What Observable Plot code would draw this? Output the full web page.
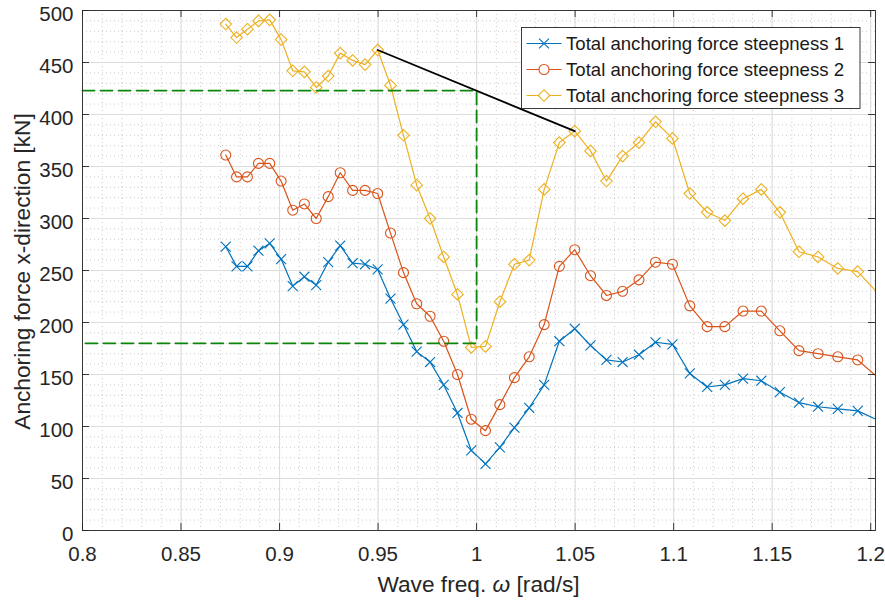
<!DOCTYPE html>
<html>
<head>
<meta charset="utf-8">
<script src="https://cdn.jsdelivr.net/npm/d3@7"></script>
<script src="https://cdn.jsdelivr.net/npm/@observablehq/plot@0.6"></script>
<style>
  html, body { margin: 0; padding: 0; background: #ffffff; }
  #chart { width: 885px; height: 601px; }
</style>
</head>
<body>
<div id="chart"></div>
<script>
// Wave frequencies [rad/s] of the simulated sea states
const omega = [
  0.8727, 0.8782, 0.8837, 0.8893, 0.8950, 0.9008, 0.9067, 0.9126, 0.9186, 0.9247,
  0.9308, 0.9371, 0.9434, 0.9498, 0.9563, 0.9629, 0.9696, 0.9764, 0.9833, 0.9903,
  0.9973, 1.0045, 1.0118, 1.0192, 1.0267, 1.0343, 1.0420, 1.0498, 1.0578, 1.0659,
  1.0741, 1.0824, 1.0908, 1.0994, 1.1082, 1.1170, 1.1260, 1.1352, 1.1445, 1.1539,
  1.1636, 1.1733, 1.1833, 1.1934, 1.2037
];

// Total anchoring force in x-direction [kN] for each wave steepness
const steep1 = [
  273, 254, 254, 269, 276, 261, 235, 244, 236, 258,
  274, 257, 256, 251, 223, 198, 172, 162, 140, 113,
   77,  64,  80,  99, 118, 140, 182, 194, 178, 164,
  162, 169, 181, 179, 151, 138, 140, 146, 144, 133,
  123, 119, 117, 115, 106
];
const steep2 = [
  361, 340, 340, 353, 353, 336, 308, 314, 300, 321,
  344, 327, 327, 324, 286, 248, 218, 206, 182, 150,
  107,  96, 121, 147, 167, 198, 254, 270, 245, 226,
  230, 241, 258, 256, 216, 196, 196, 211, 211, 192,
  173, 170, 167, 164, 147
];
const steep3 = [
  487, 474, 482, 490, 491, 472, 442, 441, 426, 437,
  459, 452, 448, 462, 428, 380, 332, 300, 263, 227,
  176, 177, 220, 256, 260, 328, 373, 384, 365, 336,
  360, 373, 393, 377, 324, 306, 298, 319, 328, 306,
  268, 263, 252, 249, 228
];

const seriesNames = [
  "Total anchoring force steepness 1",
  "Total anchoring force steepness 2",
  "Total anchoring force steepness 3"
];

// Axis ticks and their labels
const xTicks = [0.8, 0.85, 0.9, 0.95, 1.0, 1.05, 1.1, 1.15, 1.2];
const xTickLabels = ["0.8", "0.85", "0.9", "0.95", "1", "1.05", "1.1", "1.15", "1.2"];
const yTicks = [0, 50, 100, 150, 200, 250, 300, 350, 400, 450, 500];
const xMinor = d3.range(80, 121).map(d => d / 100);
const yMinor = d3.range(0, 501, 10);

// Dashed guide: force levels read at omega = 1 rad/s
const guideFreq = 1.0;
const guideHigh = 423;
const guideLow = 180;

// Axis limits
const xMin = 0.8, xMax = 1.20244;
const yMin = 0, yMax = 500;

// ---------------------------------------------------------------------------
const W = 885, H = 601;
const mL = 82, mR = 10, mT = 10, mB = 71;
const frameW = W - mL - mR, frameH = H - mT - mB;
const tickLen = 7;

const colors = ["#0072BD", "#D95319", "#EDB120"];
const symbols = ["times", "circle", "diamond2"];
const symbolR = [4.6, 5, 5.2];
const axisInk = "#262626";
const font = "'Liberation Sans', Arial, Helvetica, sans-serif";

const table = omega.map((w, i) => ({w, f1: steep1[i], f2: steep2[i], f3: steep3[i]}));
const visible = table.filter(d => d.w <= xMax);
const keys = ["f1", "f2", "f3"];

const guide = [
  {w: xMin, f: guideHigh}, {w: guideFreq, f: guideHigh},
  {w: guideFreq, f: guideLow}, {w: xMin, f: guideLow}
];
// link between the two resonance peaks of steepness 3
const iPeakA = 13, iPeakB = 27;
const peakLink = [
  {w: omega[iPeakA], f: steep3[iPeakA]},
  {w: omega[iPeakB], f: steep3[iPeakB]}
];

const seriesMarks = keys.flatMap((k, s) => [
  Plot.line(table, {x: "w", y: k, stroke: colors[s], strokeWidth: 1.2, clip: true}),
  Plot.dot(visible, {x: "w", y: k, symbol: symbols[s], r: symbolR[s],
    stroke: colors[s], strokeWidth: 1.1, fill: "none"})
]);

const plot = Plot.plot({
  width: W, height: H,
  marginLeft: mL, marginRight: mR, marginTop: mT, marginBottom: mB,
  style: {fontFamily: font, color: axisInk, background: "#ffffff", overflow: "visible"},
  x: {domain: [xMin, xMax], axis: null},
  y: {domain: [yMin, yMax], axis: null},
  marks: [
    // minor and major grid
    Plot.ruleX(xMinor, {stroke: "#bdbdbd", strokeWidth: 0.8, strokeDasharray: "1,3"}),
    Plot.ruleY(yMinor, {stroke: "#bdbdbd", strokeWidth: 0.8, strokeDasharray: "1,3"}),
    Plot.ruleX(xTicks, {stroke: "#dddddd", strokeWidth: 1.1}),
    Plot.ruleY(yTicks, {stroke: "#dddddd", strokeWidth: 1.1}),

    ...seriesMarks,

    Plot.line(guide, {x: "w", y: "f", stroke: "#0a870a", strokeWidth: 1.8,
      strokeDasharray: "12,6"}),
    Plot.line(peakLink, {x: "w", y: "f", stroke: "#000000", strokeWidth: 1.8}),

    // box and inward ticks on all four sides
    Plot.frame({stroke: axisInk, strokeWidth: 0.9}),
    Plot.tickX(xTicks, {x: d => d, insetTop: frameH - tickLen, stroke: axisInk, strokeWidth: 0.9}),
    Plot.tickX(xTicks, {x: d => d, insetBottom: frameH - tickLen, stroke: axisInk, strokeWidth: 0.9}),
    Plot.tickY(yTicks, {y: d => d, insetRight: frameW - tickLen, stroke: axisInk, strokeWidth: 0.9}),
    Plot.tickY(yTicks, {y: d => d, insetLeft: frameW - tickLen, stroke: axisInk, strokeWidth: 0.9}),

    Plot.axisX(xTicks, {tickSize: 0, tickPadding: 16, fontSize: 20.5, label: null,
      tickFormat: d => xTickLabels[xTicks.indexOf(d)], fill: axisInk}),
    Plot.axisY(yTicks, {tickSize: 0, tickPadding: 9, fontSize: 20.5, label: null, dy: 3.5,
      tickFormat: d => String(d), fill: axisInk})
  ]
});

document.getElementById("chart").appendChild(plot);

// ---------------------------------------------------------------------------
// axis titles
const svg = d3.select(plot);

const xTitle = svg.append("text")
  .attr("x", mL + frameW / 2).attr("y", 591.5)
  .attr("text-anchor", "middle")
  .attr("font-family", font).attr("font-size", 22.7).attr("fill", axisInk);
xTitle.append("tspan").text("Wave freq. ");
xTitle.append("tspan").attr("font-style", "italic").text("ω");
xTitle.append("tspan").text(" [rad/s]");

svg.append("text")
  .attr("transform", `translate(29.5,${mT + frameH / 2 + 1.5}) rotate(-90)`)
  .attr("text-anchor", "middle")
  .attr("font-family", font).attr("font-size", 22.7).attr("fill", axisInk)
  .text("Anchoring force x-direction [kN]");

// legend box (upper right)
const lg = svg.append("g").attr("transform", "translate(521.5,27.5)");
lg.append("rect").attr("width", 338.5).attr("height", 81)
  .attr("fill", "#ffffff").attr("stroke", axisInk).attr("stroke-width", 0.9);
const d3Symbols = [d3.symbolTimes, d3.symbolCircle, d3.symbolDiamond2];
seriesNames.forEach((name, s) => {
  const cy = 16 + s * 26;
  lg.append("line").attr("x1", 5).attr("x2", 40).attr("y1", cy).attr("y2", cy)
    .attr("stroke", colors[s]).attr("stroke-width", 1.2);
  lg.append("path")
    .attr("transform", `translate(22.5,${cy})`)
    .attr("d", d3.symbol(d3Symbols[s], Math.PI * symbolR[s] * symbolR[s])())
    .attr("fill", "#ffffff").attr("stroke", colors[s]).attr("stroke-width", 1.1);
  lg.append("text").attr("x", 44.5).attr("y", cy).attr("dy", "0.35em")
    .attr("text-anchor", "start")
    .attr("font-family", font).attr("font-size", 18.6).attr("fill", "#1a1a1a")
    .text(name);
});
</script>
</body>
</html>
